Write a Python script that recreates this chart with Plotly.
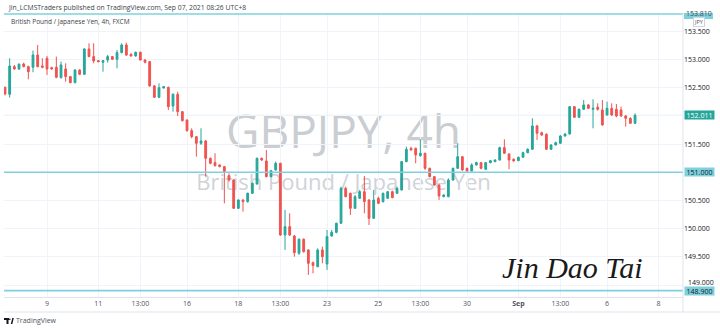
import plotly.graph_objects as go

# GBPJPY 4h (FXCM) candles, oldest first
opens = [152.509, 152.385, 152.876, 152.835, 152.923, 152.876, 152.864, 153.083, 152.888, 153.024,
         152.858, 152.864, 152.681, 152.835, 152.699, 152.592, 152.817, 152.740, 153.190, 153.054,
         152.983, 152.953, 152.994, 153.054, 153.006, 153.125, 153.261, 153.095, 153.065, 153.131,
         152.994, 152.965, 152.533, 152.332, 152.497, 152.509, 152.178, 152.385, 152.077, 151.929,
         151.740, 151.633, 151.515, 151.557, 151.249, 151.172, 151.131, 151.101, 150.941, 150.864,
         150.361, 150.509, 150.480, 150.628, 150.793, 151.249, 151.202, 150.923, 151.042, 151.160,
         149.888, 150.036, 149.870, 149.563, 149.811, 149.622, 149.397, 149.326, 149.622, 149.373,
         149.870, 149.935, 150.095, 150.716, 150.628, 150.361, 150.539, 150.657, 150.509, 150.184,
         150.539, 150.480, 150.539, 150.657, 150.628, 150.687, 151.190, 151.426, 151.426, 151.296,
         151.338, 151.071, 150.923, 150.776, 150.568, 150.568, 150.864, 151.071, 151.278, 151.071,
         151.024, 151.131, 151.172, 151.054, 151.172, 151.190, 151.219, 151.438, 151.326, 151.231,
         151.207, 151.267, 151.349, 151.409, 151.823, 151.704, 151.675, 151.409, 151.486, 151.515,
         151.645, 151.681, 152.166, 151.977, 152.119, 152.196, 152.119, 152.154, 152.107, 152.018,
         152.136, 152.119, 152.107, 152.000, 151.959, 151.870]
highs = [152.521, 153.024, 152.906, 152.935, 152.947, 152.894, 153.160, 153.261, 153.024, 153.065,
         152.876, 153.054, 152.965, 152.935, 152.710, 152.829, 152.829, 153.202, 153.290, 153.290,
         152.994, 152.994, 153.083, 153.065, 153.172, 153.290, 153.302, 153.113, 153.142, 153.142,
         153.006, 152.977, 152.551, 152.580, 152.533, 152.521, 152.403, 152.432, 152.089, 151.941,
         151.781, 151.645, 151.781, 151.574, 151.261, 151.338, 151.142, 151.113, 150.983, 150.876,
         150.521, 150.521, 150.639, 150.817, 151.261, 151.261, 151.397, 151.042, 151.190, 151.172,
         150.332, 150.273, 149.888, 149.829, 149.829, 149.634, 149.415, 149.651, 149.681, 149.977,
         149.977, 150.107, 150.746, 150.746, 150.639, 150.598, 150.687, 150.935, 150.521, 150.687,
         150.568, 150.639, 150.669, 150.675, 150.746, 151.202, 151.456, 151.456, 151.438, 151.586,
         151.349, 151.083, 150.935, 150.787, 150.610, 150.894, 151.083, 151.515, 151.290, 151.083,
         151.160, 151.190, 151.184, 151.184, 151.219, 151.231, 151.456, 151.586, 151.338, 151.249,
         151.278, 151.367, 151.426, 151.959, 151.841, 151.722, 151.693, 151.497, 151.545, 151.663,
         151.693, 152.178, 152.178, 152.131, 152.284, 152.213, 152.296, 152.225, 152.284, 152.255,
         152.225, 152.213, 152.166, 152.018, 151.977, 152.048]
lows = [152.367, 152.326, 152.823, 152.817, 152.864, 152.651, 152.776, 152.864, 152.847, 152.728,
        152.823, 152.669, 152.663, 152.610, 152.580, 152.580, 152.728, 152.728, 153.042, 152.935,
        152.953, 152.787, 152.947, 152.994, 152.847, 153.113, 153.065, 153.054, 153.054, 152.983,
        152.935, 152.521, 152.320, 152.320, 152.486, 152.107, 152.077, 152.000, 151.900, 151.722,
        151.604, 151.278, 151.486, 150.923, 151.142, 151.101, 151.089, 150.450, 150.835, 150.349,
        150.349, 150.302, 150.462, 150.616, 150.781, 151.202, 150.912, 150.912, 151.030, 149.870,
        149.622, 149.870, 149.503, 149.533, 149.574, 149.178, 149.207, 149.314, 149.385, 149.267,
        149.858, 149.918, 150.083, 150.557, 150.243, 150.349, 150.527, 150.273, 150.065, 150.172,
        150.438, 150.462, 150.527, 150.539, 150.616, 150.675, 151.178, 151.385, 151.160, 151.278,
        151.042, 150.912, 150.764, 150.509, 150.557, 150.557, 150.852, 151.060, 151.030, 151.012,
        151.012, 151.119, 151.054, 151.042, 151.160, 151.178, 151.207, 151.326, 151.054, 151.190,
        151.202, 151.261, 151.338, 151.397, 151.574, 151.645, 151.397, 151.397, 151.474, 151.503,
        151.633, 151.669, 151.965, 151.965, 152.107, 152.125, 151.781, 152.095, 151.829, 152.006,
        152.000, 151.977, 151.988, 151.811, 151.858, 151.858]
closes = [152.391, 152.888, 152.835, 152.918, 152.876, 152.787, 153.083, 152.876, 152.864, 152.835,
          152.835, 152.687, 152.906, 152.699, 152.592, 152.817, 152.740, 153.190, 153.054, 152.977,
          152.965, 152.983, 153.054, 153.006, 153.125, 153.261, 153.083, 153.065, 153.131, 152.994,
          152.953, 152.533, 152.332, 152.503, 152.521, 152.166, 152.385, 152.077, 151.918, 151.740,
          151.633, 151.515, 151.557, 151.249, 151.160, 151.119, 151.101, 151.012, 150.864, 150.361,
          150.509, 150.480, 150.628, 150.805, 151.249, 151.219, 150.923, 151.030, 151.160, 149.888,
          150.036, 149.888, 149.574, 149.811, 149.592, 149.385, 149.344, 149.622, 149.503, 149.858,
          149.935, 150.095, 150.716, 150.568, 150.361, 150.568, 150.657, 150.480, 150.184, 150.509,
          150.450, 150.628, 150.657, 150.551, 150.716, 151.190, 151.409, 151.397, 151.308, 151.338,
          151.071, 150.923, 150.776, 150.580, 150.598, 150.864, 151.071, 151.278, 151.042, 151.024,
          151.131, 151.172, 151.071, 151.172, 151.207, 151.219, 151.438, 151.338, 151.219, 151.202,
          151.267, 151.349, 151.409, 151.823, 151.693, 151.663, 151.409, 151.486, 151.527, 151.645,
          151.681, 152.166, 151.977, 152.119, 152.196, 152.136, 152.136, 152.119, 151.841, 152.136,
          152.018, 152.000, 152.000, 151.959, 151.870, 152.011]

# time-axis labels (bar index -> label)
time_tick_bars = [9, 20, 29, 39, 50, 59, 69, 80, 89, 99, 110, 119, 129, 140]
time_tick_labels = ["9", "11", "13:00", "16", "18", "13:00", "23", "25", "13:00", "30",
                    "<b>Sep</b>", "13:00", "6", "8"]
price_ticks = [149.0, 149.5, 150.0, 150.5, 151.0, 151.5, 152.0, 152.5, 153.0, 153.5]
# tick labels hidden behind the price boxes in the reference; 149.000 drawn separately
price_tick_labels = ["", "149.500", "150.000", "150.500", "", "151.500", "", "152.500",
                     "153.000", "153.500"]
bottom_tick_label = "149.000"
level_lines = [153.810, 151.000, 148.900]
last_price = 152.011

bars = list(range(len(opens)))

W, H = 720, 330
ML, MR, MT, MB = 4, 37, 13, 33
PW, PH = W - ML - MR, H - MT - MB


def fx(px):
    return (px - ML) / PW


def fy(py):
    return (H - MB - py) / PH


FONT = "Open Sans"
UP, DOWN = "#26a69a", "#ef5350"
LVL = "#7fd0de"

fig = go.Figure()
fig.add_trace(go.Candlestick(
    x=bars, open=opens, high=highs, low=lows, close=closes,
    increasing=dict(line=dict(color=UP, width=1), fillcolor=UP),
    decreasing=dict(line=dict(color=DOWN, width=1), fillcolor=DOWN),
    whiskerwidth=0, showlegend=False, hoverinfo="skip",
))

shapes = []
# watermark (below candles)
shapes.append(dict(type="rect", xref="paper", yref="paper", x0=0, x1=1,
                   y0=fy(152), y1=fy(114), line=dict(width=0), fillcolor="rgba(0,0,0,0)",
                   layer="below",
                   label=dict(text="GBPJPY, 4h", textposition="middle center",
                              font=dict(family=FONT, size=46, color="#cacdd2"))))
shapes.append(dict(type="rect", xref="paper", yref="paper", x0=0, x1=1,
                   y0=fy(196), y1=fy(170), line=dict(width=0), fillcolor="rgba(0,0,0,0)",
                   layer="below",
                   label=dict(text="British Pound / Japanese Yen", textposition="middle center",
                              font=dict(family=FONT, size=22, color="#d0d3d8"))))
# last price line
shapes.append(dict(type="line", xref="paper", yref="y", x0=0, x1=1, y0=last_price, y1=last_price,
                   line=dict(color="#c4e8ea", width=1), layer="below"))
# horizontal levels
for lv in level_lines:
    shapes.append(dict(type="line", xref="paper", yref="y", x0=0, x1=1, y0=lv, y1=lv,
                       line=dict(color=LVL, width=1.6), layer="above"))
# frame lines
shapes.append(dict(type="line", xref="paper", yref="paper", x0=fx(4), x1=fx(720), y0=fy(312), y1=fy(312),
                   line=dict(color="#e0e3eb", width=1)))
shapes.append(dict(type="line", xref="paper", yref="paper", x0=fx(683), x1=fx(683), y0=fy(13), y1=fy(312),
                   line=dict(color="#e0e3eb", width=1)))
# top clipped label box
shapes.append(dict(type="rect", xref="paper", yref="paper", x0=fx(684), x1=fx(713), y0=fy(19), y1=fy(13),
                   line=dict(width=0), fillcolor=LVL))

annotations = []


def price_label(val, bg, fg):
    annotations.append(dict(xref="paper", yref="y", x=fx(684), y=val, xanchor="left", yanchor="middle",
                            text=f"{val:.3f}", showarrow=False, bgcolor=bg, width=29, height=8,
                            borderpad=0, align="center", font=dict(family=FONT, size=7, color=fg)))


# bottom tick label, nudged up just above the 148.900 box
annotations.append(dict(xref="paper", yref="paper", x=fx(685.5), y=fy(282.3), xanchor="left",
                        yanchor="middle", text=bottom_tick_label, showarrow=False,
                        font=dict(family=FONT, size=7, color="#131722")))
price_label(last_price, UP, "#ffffff")
price_label(151.000, LVL, "#131722")
price_label(148.900, LVL, "#131722")
annotations.append(dict(xref="paper", yref="paper", x=fx(698.5), y=fy(14), xanchor="center", yanchor="middle",
                        text="153.810", showarrow=False, font=dict(family=FONT, size=7, color="#3a4a55")))
annotations.append(dict(xref="paper", yref="paper", x=fx(699.5), y=fy(22), xanchor="center", yanchor="middle",
                        text="JPY", showarrow=False, bgcolor="#ffffff", bordercolor="#d1d4dc",
                        borderwidth=1, borderpad=0, font=dict(family=FONT, size=5.5, color="#50535e")))
# header / footer texts
annotations.append(dict(xref="paper", yref="paper", x=fx(6), y=fy(7), xanchor="left", yanchor="middle",
                        text="Jin_LCMSTraders published on TradingView.com, Sep 07, 2021 08:26 UTC+8",
                        showarrow=False, font=dict(family=FONT, size=6.8, color="#3b3f4a")))
annotations.append(dict(xref="paper", yref="paper", x=fx(9), y=fy(22), xanchor="left", yanchor="middle",
                        text="British Pound / Japanese Yen, 4h, FXCM",
                        showarrow=False, font=dict(family=FONT, size=6.5, color="#3b3f4a")))
annotations.append(dict(xref="paper", yref="paper", x=fx(14), y=fy(321), xanchor="left", yanchor="middle",
                        text="TradingView", showarrow=False, font=dict(family=FONT, size=7, color="#50535e")))
# signature
annotations.append(dict(xref="paper", yref="paper", x=fx(572), y=fy(267), xanchor="center", yanchor="middle",
                        text="<i>Jin Dao Tai</i>", showarrow=False,
                        font=dict(family="Liberation Serif", size=30, color="#1a1a1a")))

# TradingView logo (small black marks)
shapes.append(dict(type="rect", xref="paper", yref="paper", x0=fx(4), x1=fx(9), y0=fy(320), y1=fy(318),
                   line=dict(width=0), fillcolor="#131722"))
shapes.append(dict(type="rect", xref="paper", yref="paper", x0=fx(6.5), x1=fx(8.5), y0=fy(324), y1=fy(318),
                   line=dict(width=0), fillcolor="#131722"))
shapes.append(dict(type="circle", xref="paper", yref="paper", x0=fx(9), x1=fx(10.6), y0=fy(320), y1=fy(318.4),
                   line=dict(width=0), fillcolor="#131722"))
shapes.append(dict(type="path", xref="paper", yref="paper",
                   path=f"M {fx(10.8)} {fy(324)} L {fx(12.3)} {fy(324)} L {fx(13.8)} {fy(318)} L {fx(12.3)} {fy(318)} Z",
                   line=dict(width=0), fillcolor="#131722"))

fig.update_layout(
    width=W, height=H,
    margin=dict(l=ML, r=MR, t=MT, b=MB, pad=0),
    paper_bgcolor="#ffffff", plot_bgcolor="#ffffff",
    boxgap=0.45,
    showlegend=False,
    xaxis=dict(range=[(ML - 5) / 4.667, (W - MR - 5) / 4.667], tickmode="array",
               tickvals=time_tick_bars, ticktext=time_tick_labels,
               showgrid=True, gridcolor="#f0f3fa", gridwidth=1, zeroline=False,
               showline=True, linecolor="#e0e3eb", linewidth=1, ticks="",
               tickfont=dict(family=FONT, size=7, color="#50535e"),
               rangeslider=dict(visible=False), fixedrange=True),
    yaxis=dict(range=[148.787, 153.828], side="right", tickmode="array",
               tickvals=price_ticks, ticktext=price_tick_labels,
               showgrid=True, gridcolor="#f0f3fa", gridwidth=1, zeroline=False,
               showline=False, ticks="",
               tickfont=dict(family=FONT, size=7, color="#131722"), fixedrange=True),
    shapes=shapes,
    annotations=annotations,
)

fig.write_html("out.html")
